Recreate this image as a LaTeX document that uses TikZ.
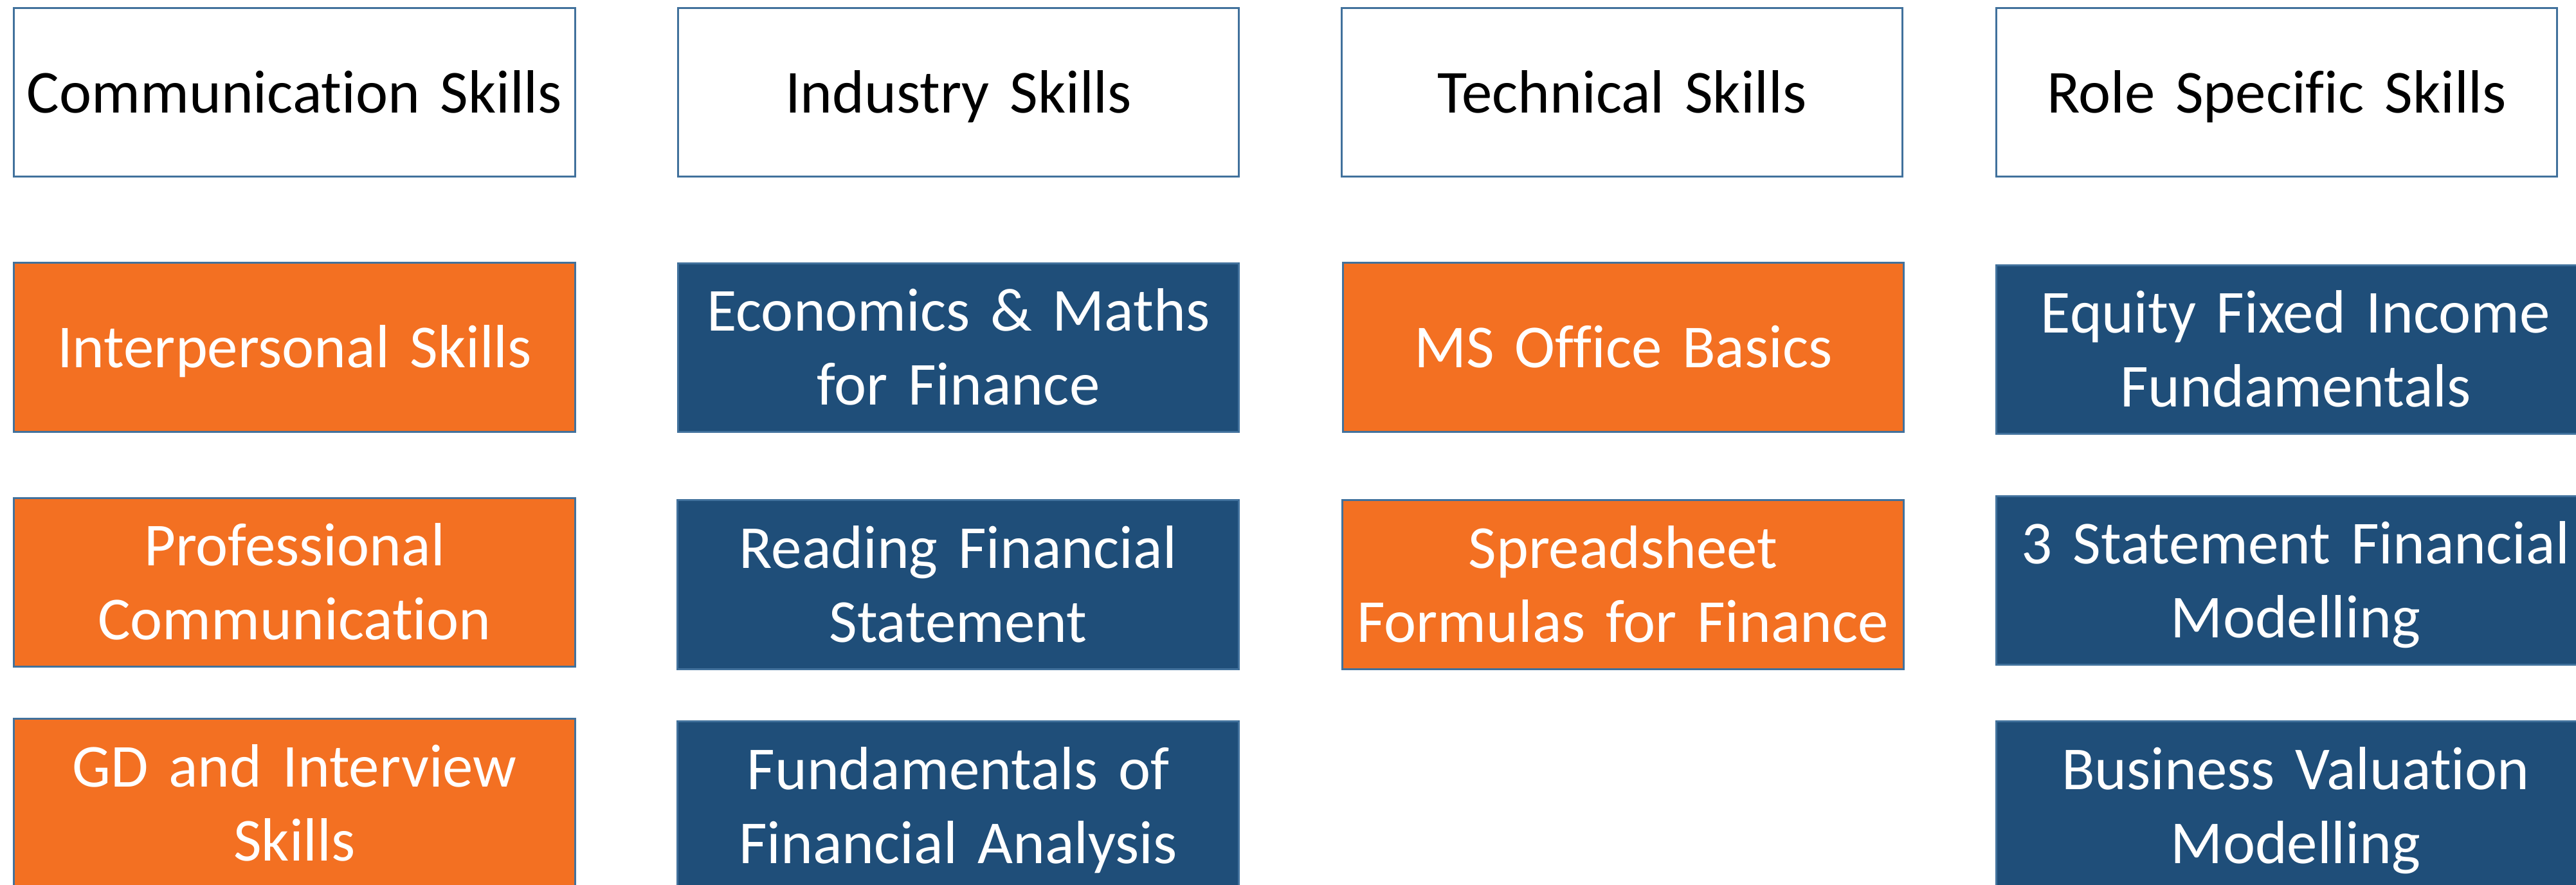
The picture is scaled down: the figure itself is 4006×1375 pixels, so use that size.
\documentclass[tikz,border=0pt]{standalone}
\usepackage{fontspec}
\setmainfont{Carlito}[Ligatures=NoCommon]
\definecolor{orangefill}{HTML}{F37022}
\definecolor{bluefill}{HTML}{1F4E79}
\definecolor{edge}{HTML}{41719C}
\newcommand{\bs}{\rule[-7.3pt]{0pt}{32.7pt}}
\tikzset{
  box/.style={draw=edge, line width=0.03cm, rectangle, inner sep=0pt, align=center,
    font=\fontsize{27}{32.7}\selectfont, minimum height=2.62cm},
  headbox/.style={box, fill=white, text=black},
  obox/.style={box, fill=orangefill, text=white},
  bbox/.style={box, fill=bluefill, text=white},
}
\begin{document}
\begin{tikzpicture}[x=0.01cm,y=-0.01cm]
\useasboundingbox (0,0) rectangle (4006,1375);
\clip (0,0) rectangle (4006,1375);
% headers
\node[headbox, text width=8.72cm, minimum height=2.61cm] (h1) at (458,143.5) {\bs Communication Skills\bs};
\node[headbox, text width=8.71cm, minimum height=2.61cm] (h2) at (1490.5,143.5) {\bs Industry Skills\bs};
\node[headbox, text width=8.71cm, minimum height=2.61cm] (h3) at (2522.5,143.5) {\bs Technical Skills\bs};
\node[headbox, text width=8.71cm, minimum height=2.61cm] (h4) at (3540.5,143.5) {\bs Role Specific Skills\bs};
% row 2
\node[obox, text width=8.72cm] (c1) at (458,540) {\bs Interpersonal Skills\bs};
\node[bbox, text width=8.71cm] (i1) at (1490.5,540.5) {\bs Economics \& Maths\\for Finance\bs};
\node[obox, text width=8.71cm] (t1) at (2524.5,540) {\bs MS Office Basics\bs};
\node[bbox, text width=9.30cm] (r1) at (3570,543.5) {\bs Equity Fixed Income\\Fundamentals\bs};
% row 3
\node[obox, text width=8.72cm] (c2) at (458,905.5) {\bs Professional\\Communication\bs};
\node[bbox, text width=8.72cm] (i2) at (1490,909) {\bs Reading Financial\\Statement\bs};
\node[obox, text width=8.72cm] (t2) at (2524,909) {\bs Spreadsheet\\Formulas for Finance\bs};
\node[bbox, text width=9.30cm] (r2) at (3570,902.5) {\bs 3 Statement Financial\\Modelling\bs};
% row 4
\node[obox, text width=8.72cm] (c3) at (458,1249) {\bs GD and Interview\\Skills\bs};
\node[bbox, text width=8.72cm] (i3) at (1490,1253) {\bs Fundamentals of\\Financial Analysis\bs};
\node[bbox, text width=9.30cm] (r3) at (3570,1253) {\bs Business Valuation\\Modelling\bs};
\end{tikzpicture}
\end{document}
